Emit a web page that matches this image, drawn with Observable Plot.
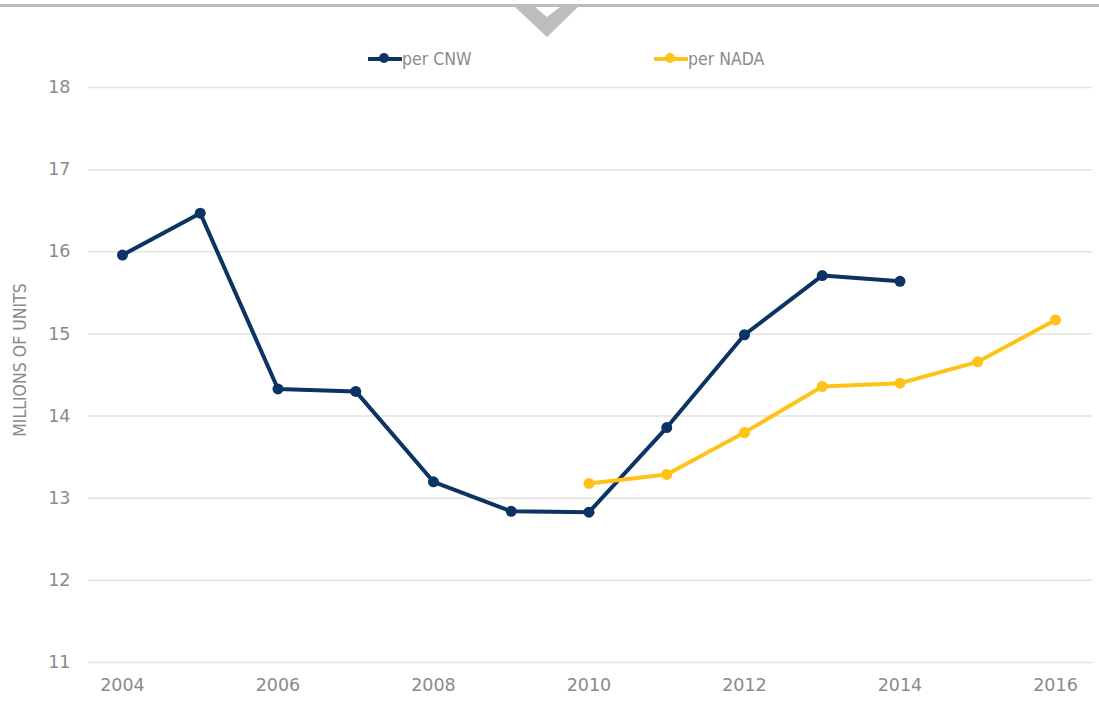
<!DOCTYPE html>
<html>
<head>
<meta charset="utf-8">
<script src="https://cdn.jsdelivr.net/npm/d3@7"></script>
<script src="https://cdn.jsdelivr.net/npm/@observablehq/plot@0.6"></script>
<style>
  html, body { margin: 0; padding: 0; background: #fff; }
  #wrap { position: relative; width: 1099px; height: 702px; overflow: hidden; font-family: "DejaVu Sans", sans-serif; }
  #deco { position: absolute; left: 0; top: 0; }
  .legend { position: absolute; top: 49px; display: flex; align-items: center; font-family: "Liberation Sans Narrow", "DejaVu Sans Condensed", sans-serif; font-size: 17.5px; color: #8a8a8a; }
  #ylab { position: absolute; left: 20px; top: 360px; transform: translate(-50%, -50%) rotate(-90deg); white-space: nowrap; font-family: "Liberation Sans Narrow", "DejaVu Sans Condensed", sans-serif; font-size: 17.5px; color: #8a8a8a; }
</style>
</head>
<body>
<div id="wrap">
  <div id="chart"></div>
  <svg id="deco" width="1099" height="45">
    <rect x="0" y="4" width="1099" height="3" fill="#bdbdbd"></rect>
    <path d="M515,7 L578,7 L547,37 Z M535,7 L560,7 L547,17 Z" fill="#bdbdbd" fill-rule="evenodd"></path>
  </svg>
  <div id="legend"></div>
  <div id="ylab">MILLIONS OF UNITS</div>
</div>
<script>
const cnwYears = [2004, 2005, 2006, 2007, 2008, 2009, 2010, 2011, 2012, 2013, 2014];
const cnwValues = [15.96, 16.47, 14.33, 14.30, 13.20, 12.84, 12.83, 13.86, 14.99, 15.71, 15.64];
const nadaYears = [2010, 2011, 2012, 2013, 2014, 2015, 2016];
const nadaValues = [13.18, 13.29, 13.80, 14.36, 14.40, 14.66, 15.17];
const seriesNames = ["per CNW", "per NADA"];
const seriesColors = ["#0b3363", "#fdc318"];
const yTicks = [11, 12, 13, 14, 15, 16, 17, 18];
const xTicks = [2004, 2006, 2008, 2010, 2012, 2014, 2016];

const cnw = cnwYears.map((y, i) => ({year: y, value: cnwValues[i], series: seriesNames[0]}));
const nada = nadaYears.map((y, i) => ({year: y, value: nadaValues[i], series: seriesNames[1]}));
const data = cnw.concat(nada);

const plot = Plot.plot({
  width: 1099,
  height: 702,
  marginTop: 87,
  marginBottom: 40,
  marginLeft: 88,
  marginRight: 7,
  style: {fontFamily: "'DejaVu Sans', sans-serif", fontSize: "17.5px", color: "#8a8a8a", background: "#fff"},
  x: {domain: [2003.563, 2016.476], label: null},
  y: {domain: [11, 18], label: null},
  color: {domain: seriesNames, range: seriesColors},
  marks: [
    Plot.gridY(yTicks, {stroke: "#e3e3e3", strokeOpacity: 1, strokeWidth: 1.5}),
    Plot.axisY({ticks: yTicks, tickFormat: d => String(d), tickSize: 0, tickPadding: 18, fill: "#8a8a8a", fontSize: 17.5, label: null}),
    Plot.axisX({ticks: xTicks, tickFormat: d => String(d), tickSize: 0, tickPadding: 16, fill: "#8a8a8a", fontSize: 17.5, label: null}),
    Plot.line(data, {x: "year", y: "value", z: "series", stroke: "series", strokeWidth: 4, strokeLinejoin: "round"}),
    Plot.dot(data, {x: "year", y: "value", fill: "series", r: 5.5, stroke: null})
  ]
});
document.getElementById("chart").appendChild(plot);

// Legend
const legend = document.getElementById("legend");
const legendLeft = [368, 654];
seriesNames.forEach((name, i) => {
  const item = document.createElement("div");
  item.className = "legend";
  item.style.left = legendLeft[i] + "px";
  item.innerHTML = `<svg width="34" height="20"><line x1="1" y1="10" x2="33" y2="10" stroke="${seriesColors[i]}" stroke-width="4" stroke-linecap="round"></line><circle cx="16" cy="9" r="5" fill="${seriesColors[i]}"></circle></svg><span>${name}</span>`;
  legend.appendChild(item);
});
</script>
</body>
</html>
